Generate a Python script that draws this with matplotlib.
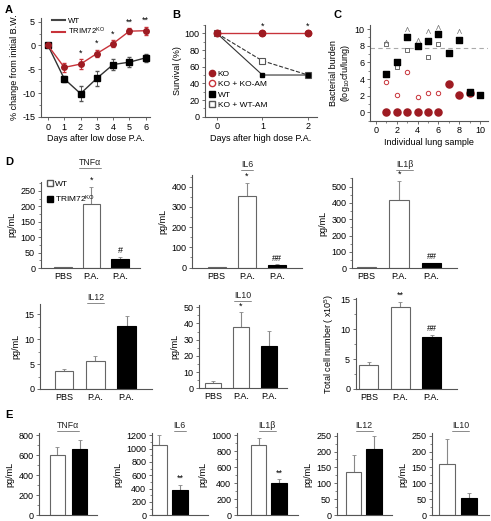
import matplotlib
matplotlib.use("Agg")
import matplotlib.pyplot as plt
import numpy as np
from matplotlib.ticker import AutoMinorLocator, MultipleLocator
from matplotlib.lines import Line2D

plt.rcParams['font.family'] = ['Liberation Sans', 'DejaVu Sans']
plt.rcParams['axes.unicode_minus'] = False
plt.rcParams['mathtext.fontset'] = 'custom'
plt.rcParams['mathtext.rm'] = 'Liberation Sans'
plt.rcParams['mathtext.it'] = 'Liberation Sans'

# ---------------- data ----------------
# Panel A
days_a = [0, 1, 2, 3, 4, 5, 6]
wt_bw = [0, -7.0, -10.1, -6.9, -4.0, -3.5, -2.6]
wt_bw_err = [0.3, 0.7, 1.5, 1.6, 1.1, 1.1, 0.9]
ko_bw = [0, -4.6, -3.9, -1.7, 0.4, 3.0, 3.1]
ko_bw_err = [0.3, 1.0, 1.0, 0.8, 0.7, 0.6, 0.8]
a_marks = ["", "", "*", "*", "*", "**", "**"]

# Panel B
days_b = [0, 1, 2]
surv_ko = [100, 100, 100]
surv_ko_koam = [100, 100, 100]
surv_wt = [100, 50, 50]
surv_ko_wtam = [100, 67, 50]
b_marks = ["", "*", "*"]

# Panel C
c_wt_x = [1, 2, 3, 4, 5, 6, 7, 8, 9, 10]
c_wt_y = [4.6, 6.1, 9.1, 8.0, 8.6, 9.4, 7.1, 8.7, 2.4, 2.1]
c_ko_x = [1, 2, 3, 4, 5, 6, 7, 8, 9]
c_ko_y = [0, 0, 0, 0, 0, 0, 3.4, 2.1, 2.3]
c_kokoam_x = [1, 2, 3, 4, 5, 6]
c_kokoam_y = [3.7, 2.1, 4.9, 1.9, 2.3, 2.3]
c_kowtam_x = [1, 2, 3, 4, 5, 6]
c_kowtam_y = [8.2, 5.4, 7.5, 7.9, 6.6, 8.2]
c_above_x = [1, 3, 4, 5, 6, 8]
c_above_y = [8.5, 10.0, 8.7, 9.8, 10.3, 9.8]
c_limit = 7.7

# Panel D
d_cats = ["PBS", "P.A.", "P.A."]
d_tnf = [3, 208, 30]; d_tnf_err = [1, 55, 5]; d_tnf_marks = ["", "*", "#"]
d_il6 = [2, 352, 12]; d_il6_err = [1, 68, 3]; d_il6_marks = ["", "*", "##"]
d_il1b = [5, 420, 30]; d_il1b_err = [2, 115, 5]; d_il1b_marks = ["", "*", "##"]
d_il12 = [3.7, 5.7, 12.7]; d_il12_err = [0.3, 0.9, 2.0]; d_il12_marks = ["", "", ""]
d_il10 = [3.5, 38, 26]; d_il10_err = [0.8, 9, 9.5]; d_il10_marks = ["", "*", ""]
d_cell = [4.0, 13.8, 8.7]; d_cell_err = [0.5, 0.8, 0.3]; d_cell_marks = ["", "**", "##"]

# Panel E (WT, KO)
e_tnf = [605, 660]; e_tnf_err = [80, 92]; e_tnf_marks = ["", ""]
e_il6 = [1050, 385]; e_il6_err = [150, 75]; e_il6_marks = ["", "**"]
e_il1b = [880, 410]; e_il1b_err = [85, 45]; e_il1b_marks = ["", "**"]
e_il12 = [135, 207]; e_il12_err = [55, 43]; e_il12_marks = ["", ""]
e_il10 = [161, 55]; e_il10_err = [77, 16]; e_il10_marks = ["", ""]

RED_L = '#c8333a'
RED_M = '#9e1b22'
AXC = '#555555'

W, H = 491, 521
fig = plt.figure(figsize=(W / 100, H / 100), dpi=100)


def axpx(l, t, r, b):
    return fig.add_axes([l / W, 1 - b / H, (r - l) / W, (b - t) / H])


def style(ax, fs=6.5):
    for s in ['top', 'right']:
        ax.spines[s].set_visible(False)
    for s in ['left', 'bottom']:
        ax.spines[s].set_color(AXC)
        ax.spines[s].set_linewidth(0.8)
    ax.tick_params(direction='out', length=2.5, width=0.6, labelsize=fs, pad=1.5, color=AXC)
    ax.tick_params(which='minor', direction='out', length=1.5, width=0.5, color=AXC)


ul_texts = []


def ul_title(ax, txt, ypx):
    bb = ax.get_position()
    xc = (bb.x0 + bb.x1) / 2
    t = fig.text(xc, 1 - ypx / H, txt, ha='center', va='baseline', fontsize=6.3,
                 fontweight='normal', color='#222222')
    ul_texts.append(t)


# ---------------- Panel A ----------------
ax = axpx(40.7, 18.3, 150, 117)
style(ax)
ax.errorbar(days_a, wt_bw, yerr=wt_bw_err, color='#333333', marker='s', ms=4, lw=1,
            mfc='black', mec='black', capsize=1.5, elinewidth=0.7, ecolor='#555555', label='WT')
ax.errorbar(days_a, ko_bw, yerr=ko_bw_err, color=RED_L, marker='o', ms=4, lw=1,
            mfc=RED_M, mec=RED_M, capsize=1.5, elinewidth=0.7, ecolor=RED_L, label='TRIM72$^{KO}$')
for x, y, e, m in zip(days_a, ko_bw, ko_bw_err, a_marks):
    if m:
        ax.text(x, y + e + 0.4, m, ha='center', va='bottom', fontsize=6.5)
ax.set_xlim(-0.45, 6.27)
ax.set_ylim(-15, 5.7)
ax.set_yticks([-15, -10, -5, 0, 5])
ax.set_xticks(days_a)
ax.yaxis.set_minor_locator(AutoMinorLocator(2))
ax.set_ylabel('% change from initial B.W.', fontsize=6.5, labelpad=2)
ax.set_xlabel('Days after low dose P.A.', fontsize=6.5, labelpad=2)
hA = [Line2D([], [], color='#444444', lw=1.5), Line2D([], [], color=RED_L, lw=1.5)]
ax.legend(hA, ['WT', 'TRIM72$^{KO}$'], loc='upper left', bbox_to_anchor=(0.05, 1.07),
          frameon=False, fontsize=5.6, handlelength=1.6, labelspacing=0.12, handletextpad=0.4,
          borderpad=0.3)
fig.text(5 / W, 1 - 10 / H, 'A', fontsize=8, fontweight='bold', va='center')

# ---------------- Panel B ----------------
ax = axpx(205, 25, 316.7, 116.7)
style(ax)
ax.plot(days_b, surv_ko_wtam, color='#333333', ls='--', lw=0.8, marker='s', ms=4.5,
        mfc='white', mec='#555555', mew=0.8, zorder=2)
ax.plot(days_b, surv_wt, color='#333333', ls='-', lw=0.8, marker='s', ms=3,
        mfc='black', mec='black', zorder=3)
ax.plot(days_b, surv_ko_koam, color=RED_L, ls='-', lw=0.8, marker='o', ms=4.5,
        mfc='white', mec=RED_L, zorder=3)
ax.plot(days_b, surv_ko, color=RED_L, ls='-', lw=0.9, marker='o', ms=4.5,
        mfc=RED_M, mec=RED_M, zorder=4)
for x, m in zip(days_b, b_marks):
    if m:
        ax.text(x, 103, m, ha='center', va='bottom', fontsize=6.5)
ax.set_xlim(-0.26, 2.19)
ax.set_ylim(0, 110)
ax.set_yticks([0, 20, 40, 60, 80, 100])
ax.set_xticks(days_b)
ax.yaxis.set_minor_locator(AutoMinorLocator(2))
ax.set_ylabel('Survival (%)', fontsize=6.5, labelpad=2)
ax.set_xlabel('Days after high dose P.A.', fontsize=6.5, labelpad=2)
hB = [Line2D([], [], ls='', marker='o', ms=4.5, mfc=RED_M, mec=RED_M),
      Line2D([], [], ls='', marker='o', ms=4.5, mfc='white', mec=RED_L),
      Line2D([], [], ls='', marker='s', ms=4, mfc='black', mec='black'),
      Line2D([], [], ls='', marker='s', ms=4.5, mfc='white', mec='#555555')]
ax.legend(hB, ['KO', 'KO + KO-AM', 'WT', 'KO + WT-AM'], loc='lower left',
          bbox_to_anchor=(-0.02, 0.02), frameon=False, fontsize=6, handlelength=0.8,
          labelspacing=0.3, handletextpad=0.3, borderpad=0.2)
fig.text(172 / W, 1 - 15 / H, 'B', fontsize=8, fontweight='bold', va='center')

# ---------------- Panel C ----------------
ax = axpx(370, 25, 488, 120.7)
style(ax)
ax.axhline(c_limit, color='#aaaaaa', ls='--', lw=0.8, dashes=(4, 3), zorder=1)
ax.scatter(c_kowtam_x, c_kowtam_y, marker='s', s=8, facecolor='white', edgecolor='#555555', lw=0.6, zorder=3)
ax.scatter(c_above_x, c_above_y, marker=r'$\wedge$', s=12, color='#777777', lw=0.2, zorder=3)
ax.scatter(c_kokoam_x, c_kokoam_y, marker='o', s=10, facecolor='white', edgecolor=RED_L, lw=0.7, zorder=3)
ax.scatter(c_ko_x, c_ko_y, marker='o', s=26, color=RED_M, zorder=4)
ax.scatter(c_wt_x, c_wt_y, marker='s', s=22, color='black', zorder=5)
ax.set_xlim(-0.58, 10.77)
ax.set_ylim(-1, 10.5)
ax.set_yticks([0, 2, 4, 6, 8, 10])
ax.set_xticks([0, 2, 4, 6, 8, 10])
ax.xaxis.set_minor_locator(MultipleLocator(1))
ax.yaxis.set_minor_locator(MultipleLocator(1))
ax.set_ylabel('Bacterial burden\n(log$_{10}$cfu/lung)', fontsize=6.5, labelpad=2, linespacing=1.1)
ax.set_xlabel('Individual lung sample', fontsize=6.5, labelpad=2)
fig.text(333 / W, 1 - 15 / H, 'C', fontsize=8, fontweight='bold', va='center')


# ---------------- bar helper ----------------
def bars(ax, vals, errs, colors, marks, xlim, ylim, step, cats=None, width=0.6, mark_off=0.02):
    style(ax)
    x = np.arange(len(vals))
    ax.bar(x, vals, width=width, color=colors, edgecolor=['#666666' if c == 'white' else 'black' for c in colors],
           lw=0.8, zorder=2)
    ax.errorbar(x, vals, yerr=[np.zeros(len(errs)), errs], fmt='none', ecolor='#888888',
                elinewidth=0.8, capsize=1.5, capthick=0.6, zorder=1)
    for xi, v, e, m in zip(x, vals, errs, marks):
        if m:
            ax.text(xi, v + e + mark_off * ylim[1], m, ha='center', va='bottom', fontsize=6.5)
    ax.set_xlim(*xlim)
    ax.set_ylim(*ylim)
    ax.yaxis.set_major_locator(MultipleLocator(step))
    ax.yaxis.set_minor_locator(AutoMinorLocator(2))
    if cats is None:
        ax.set_xticks([])
    else:
        ax.set_xticks(x)
        ax.set_xticklabels(cats)
        ax.tick_params(axis='x', length=0, pad=3)
    ax.spines['bottom'].set_bounds(xlim[0], xlim[1])


dcol = ['white', 'white', 'black']
ecol = ['white', 'black']

# Row D1
ax = axpx(40.7, 181.7, 140, 268)
bars(ax, d_tnf, d_tnf_err, dcol, d_tnf_marks, (-0.78, 2.7), (0, 280), 50, d_cats)
ax.set_ylabel('pg/mL', fontsize=6.5, labelpad=3)
hD = [Line2D([], [], ls='', marker='s', ms=5, mfc='white', mec='#555555'),
      Line2D([], [], ls='', marker='s', ms=5, mfc='black', mec='black')]
ax.legend(hD, ['WT', 'TRIM72$^{KO}$'], loc='upper left', bbox_to_anchor=(-0.02, 1.1),
          frameon=False, fontsize=6, handlelength=0.8, labelspacing=0.6, handletextpad=0.3)
ul_title(ax, 'TNF\u03b1', 165)
fig.text(5 / W, 1 - 162 / H, 'D', fontsize=8, fontweight='bold', va='center')

ax = axpx(192.3, 175, 301.7, 267.5)
bars(ax, d_il6, d_il6_err, dcol, d_il6_marks, (-0.81, 2.83), (0, 458), 100, d_cats)
ax.set_ylabel('pg/mL', fontsize=6.5, labelpad=3)
ul_title(ax, 'IL6', 167)

ax = axpx(352.3, 178.3, 456.7, 268.3)
bars(ax, d_il1b, d_il1b_err, dcol, d_il1b_marks, (-0.44, 2.77), (0, 551), 100, d_cats)
ax.set_ylabel('pg/mL', fontsize=6.5, labelpad=3)
ul_title(ax, 'IL1\u03b2', 167)

# Row D2
ax = axpx(40, 304, 151.7, 389)
bars(ax, d_il12, d_il12_err, dcol, d_il12_marks, (-0.77, 2.8), (0, 17.1), 5, d_cats)
ax.set_ylabel('pg/mL', fontsize=6.5, labelpad=3)
ul_title(ax, 'IL12', 300)

ax = axpx(199, 305, 286.7, 388.3)
bars(ax, d_il10, d_il10_err, dcol, d_il10_marks, (-0.5, 2.63), (0, 51.4), 10, d_cats)
ax.set_ylabel('pg/mL', fontsize=6.5, labelpad=3)
ul_title(ax, 'IL10', 298)

ax = axpx(355.7, 298.3, 456.7, 389)
bars(ax, d_cell, d_cell_err, dcol, d_cell_marks, (-0.42, 2.8), (0, 15.2), 5, d_cats)
ax.set_ylabel('Total cell number ( x10$^5$)', fontsize=6.5, labelpad=3)

# Row E
fig.text(5 / W, 1 - 415 / H, 'E', fontsize=8, fontweight='bold', va='center')
ax = axpx(39.3, 433, 97, 515.3)
bars(ax, e_tnf, e_tnf_err, ecol, e_tnf_marks, (-0.79, 1.75), (0, 825), 200, None, width=0.66)
ax.set_ylabel('pg/mL', fontsize=6.5, labelpad=3)
ul_title(ax, 'TNF\u03b1', 428)

ax = axpx(151.7, 433, 208, 515.3)
bars(ax, e_il6, e_il6_err, ecol, e_il6_marks, (-0.37, 2.35), (0, 1235), 200, None, width=0.75)
ax.set_ylabel('pg/mL', fontsize=6.5, labelpad=3)
ul_title(ax, 'IL6', 428)

ax = axpx(236.7, 433, 298, 515.3)
bars(ax, e_il1b, e_il1b_err, ecol, e_il1b_marks, (-1.08, 1.94), (0, 1030), 200, None, width=0.75)
ax.set_ylabel('pg/mL', fontsize=6.5, labelpad=3)
ul_title(ax, 'IL1\u03b2', 428)

ax = axpx(336.7, 433, 391.7, 515.3)
bars(ax, e_il12, e_il12_err, ecol, e_il12_marks, (-0.84, 1.87), (0, 258), 50, None, width=0.75)
ax.set_ylabel('pg/mL', fontsize=6.5, labelpad=3)
ul_title(ax, 'IL12', 428)

ax = axpx(432.3, 433, 489, 515.3)
bars(ax, e_il10, e_il10_err, ecol, e_il10_marks, (-0.68, 1.93), (0, 258), 50, None, width=0.75)
ax.set_ylabel('pg/mL', fontsize=6.5, labelpad=3)
ul_title(ax, 'IL10', 428)

# underline titles
fig.canvas.draw()
r = fig.canvas.get_renderer()
for t in ul_texts:
    bb = t.get_window_extent(r)
    y = bb.y0 - 0.5
    fig.add_artist(Line2D([bb.x0 / W, bb.x1 / W], [y / H, y / H], transform=fig.transFigure,
                          color='#333333', lw=0.4))

fig.savefig('out.png', dpi=100)
